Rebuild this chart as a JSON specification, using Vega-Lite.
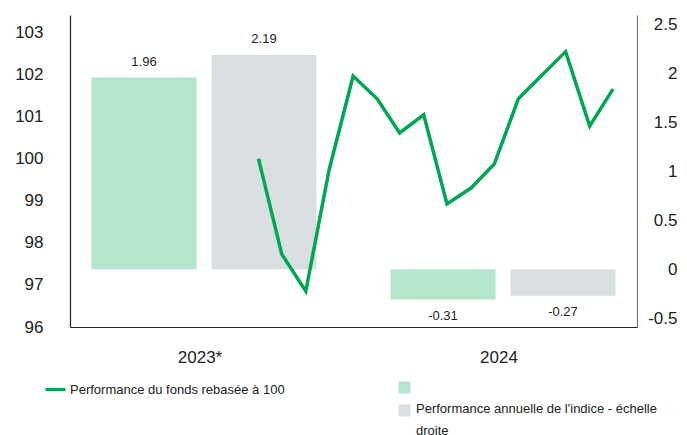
{
  "$schema": "https://vega.github.io/schema/vega-lite/v6.json",
  "width": 567,
  "height": 312,
  "autosize": {"type": "none"},
  "padding": {"left": 70, "top": 15, "right": 50, "bottom": 108},
  "config": {
    "view": {"stroke": null},
    "font": "Liberation Sans",
    "axis": {"grid": false, "ticks": false, "labelFont": "Liberation Sans", "labelColor": "#222222"},
    "legend": {"labelFont": "Liberation Sans", "labelColor": "#222222"}
  },
  "datasets": {
    "bars": [
      {"year": "2023*", "series": "Fonds", "value": 1.96},
      {"year": "2023*", "series": "Indice", "value": 2.19},
      {"year": "2024", "series": "Fonds", "value": -0.31},
      {"year": "2024", "series": "Indice", "value": -0.27}
    ],
    "line": [
      {"date": "2023-09-01", "serie": "Performance du fonds rebasée à 100", "nav": 100.0},
      {"date": "2023-10-01", "serie": "Performance du fonds rebasée à 100", "nav": 97.73},
      {"date": "2023-11-01", "serie": "Performance du fonds rebasée à 100", "nav": 96.85},
      {"date": "2023-12-01", "serie": "Performance du fonds rebasée à 100", "nav": 99.73},
      {"date": "2024-01-01", "serie": "Performance du fonds rebasée à 100", "nav": 101.96},
      {"date": "2024-02-01", "serie": "Performance du fonds rebasée à 100", "nav": 101.42},
      {"date": "2024-03-01", "serie": "Performance du fonds rebasée à 100", "nav": 100.61},
      {"date": "2024-04-01", "serie": "Performance du fonds rebasée à 100", "nav": 101.04},
      {"date": "2024-05-01", "serie": "Performance du fonds rebasée à 100", "nav": 98.92},
      {"date": "2024-06-01", "serie": "Performance du fonds rebasée à 100", "nav": 99.3},
      {"date": "2024-07-01", "serie": "Performance du fonds rebasée à 100", "nav": 99.87},
      {"date": "2024-08-01", "serie": "Performance du fonds rebasée à 100", "nav": 101.42},
      {"date": "2024-09-01", "serie": "Performance du fonds rebasée à 100", "nav": 101.99},
      {"date": "2024-10-01", "serie": "Performance du fonds rebasée à 100", "nav": 102.54},
      {"date": "2024-11-01", "serie": "Performance du fonds rebasée à 100", "nav": 100.77},
      {"date": "2024-12-01", "serie": "Performance du fonds rebasée à 100", "nav": 101.65}
    ]
  },
  "layer": [
    {
      "data": {"name": "bars"},
      "encoding": {
        "x": {
          "field": "year", "type": "nominal", "sort": null,
          "scale": {"paddingInner": 0.2475, "paddingOuter": 0.0719},
          "axis": {"title": null, "labelFontSize": 17, "labelAngle": 0, "labelPadding": 22, "labelOffset": -4, "domainColor": "#222222", "domainWidth": 1.2, "ticks": false}
        },
        "xOffset": {"field": "series", "type": "nominal", "scale": {"paddingInner": 0.125, "paddingOuter": 0}},
        "y": {
          "field": "value", "type": "quantitative",
          "scale": {"domain": [-0.59, 2.6], "nice": false, "zero": false},
          "axis": {"orient": "right", "title": null, "values": [-0.5, 0, 0.5, 1, 1.5, 2, 2.5], "labelExpr": "datum.value + ''", "labelAlign": "right", "labelPadding": 40, "labelFontSize": 17, "domainColor": "#777777", "domainWidth": 1.2}
        }
      },
      "layer": [
        {
          "mark": {"type": "bar"},
          "encoding": {
            "fill": {
              "field": "series", "type": "nominal",
              "scale": {"domain": ["Fonds", "Indice"], "range": ["#b3e6cb", "#d9dee1"]},
              "legend": {
                "orient": "none", "legendX": 328, "legendY": 366, "title": null, "padding": 0,
                "symbolType": "square", "symbolSize": 144, "symbolStrokeWidth": 0,
                "labelFontSize": 13, "labelOffset": 5, "rowPadding": 8, "labelBaseline": "top", "labelLimit": 400,
                "labelExpr": "datum.value == 'Fonds' ? '' : ['Performance annuelle de l\\'indice - échelle', 'droite']",
                "encode": {
                  "symbols": {"update": {"fill": {"signal": "datum.value == 'Indice' ? '#b3b3b3' : '#b3e6cb'"}}},
                  "labels": {"update": {"lineHeight": {"value": 22}, "dy": {"value": -8}}}
                }
              }
            }
          }
        },
        {
          "transform": [{"filter": "datum.value >= 0"}],
          "mark": {"type": "text", "dy": -16, "fontSize": 13, "color": "#222222", "baseline": "middle"},
          "encoding": {"text": {"field": "value", "type": "nominal"}}
        },
        {
          "transform": [{"filter": "datum.value < 0"}],
          "mark": {"type": "text", "dy": 16, "fontSize": 13, "color": "#222222", "baseline": "middle"},
          "encoding": {"text": {"field": "value", "type": "nominal"}}
        }
      ]
    },
    {
      "data": {"name": "line"},
      "mark": {"type": "line", "strokeWidth": 3.5},
      "encoding": {
        "x": {
          "field": "date", "type": "temporal",
          "scale": {"domain": [{"year": 2023, "month": 1, "date": 1, "utc": true}, {"year": 2025, "month": 1, "date": 1, "utc": true}]},
          "axis": null
        },
        "y": {
          "field": "nav", "type": "quantitative",
          "scale": {"domain": [96, 103.41], "nice": false, "zero": false},
          "axis": {"orient": "left", "title": null, "values": [96, 97, 98, 99, 100, 101, 102, 103], "labelPadding": 27, "labelFontSize": 17, "domainColor": "#222222", "domainWidth": 1.2}
        },
        "stroke": {
          "field": "serie", "type": "nominal",
          "scale": {"range": ["#00a651"]},
          "legend": {
            "orient": "none", "legendX": -26, "legendY": 363, "title": null, "padding": 0,
            "symbolType": "stroke", "symbolSize": 400, "symbolStrokeWidth": 3,
            "labelFontSize": 13, "labelOffset": 3, "labelLimit": 400
          }
        }
      }
    }
  ],
  "resolve": {"scale": {"x": "independent", "y": "independent"}}
}
